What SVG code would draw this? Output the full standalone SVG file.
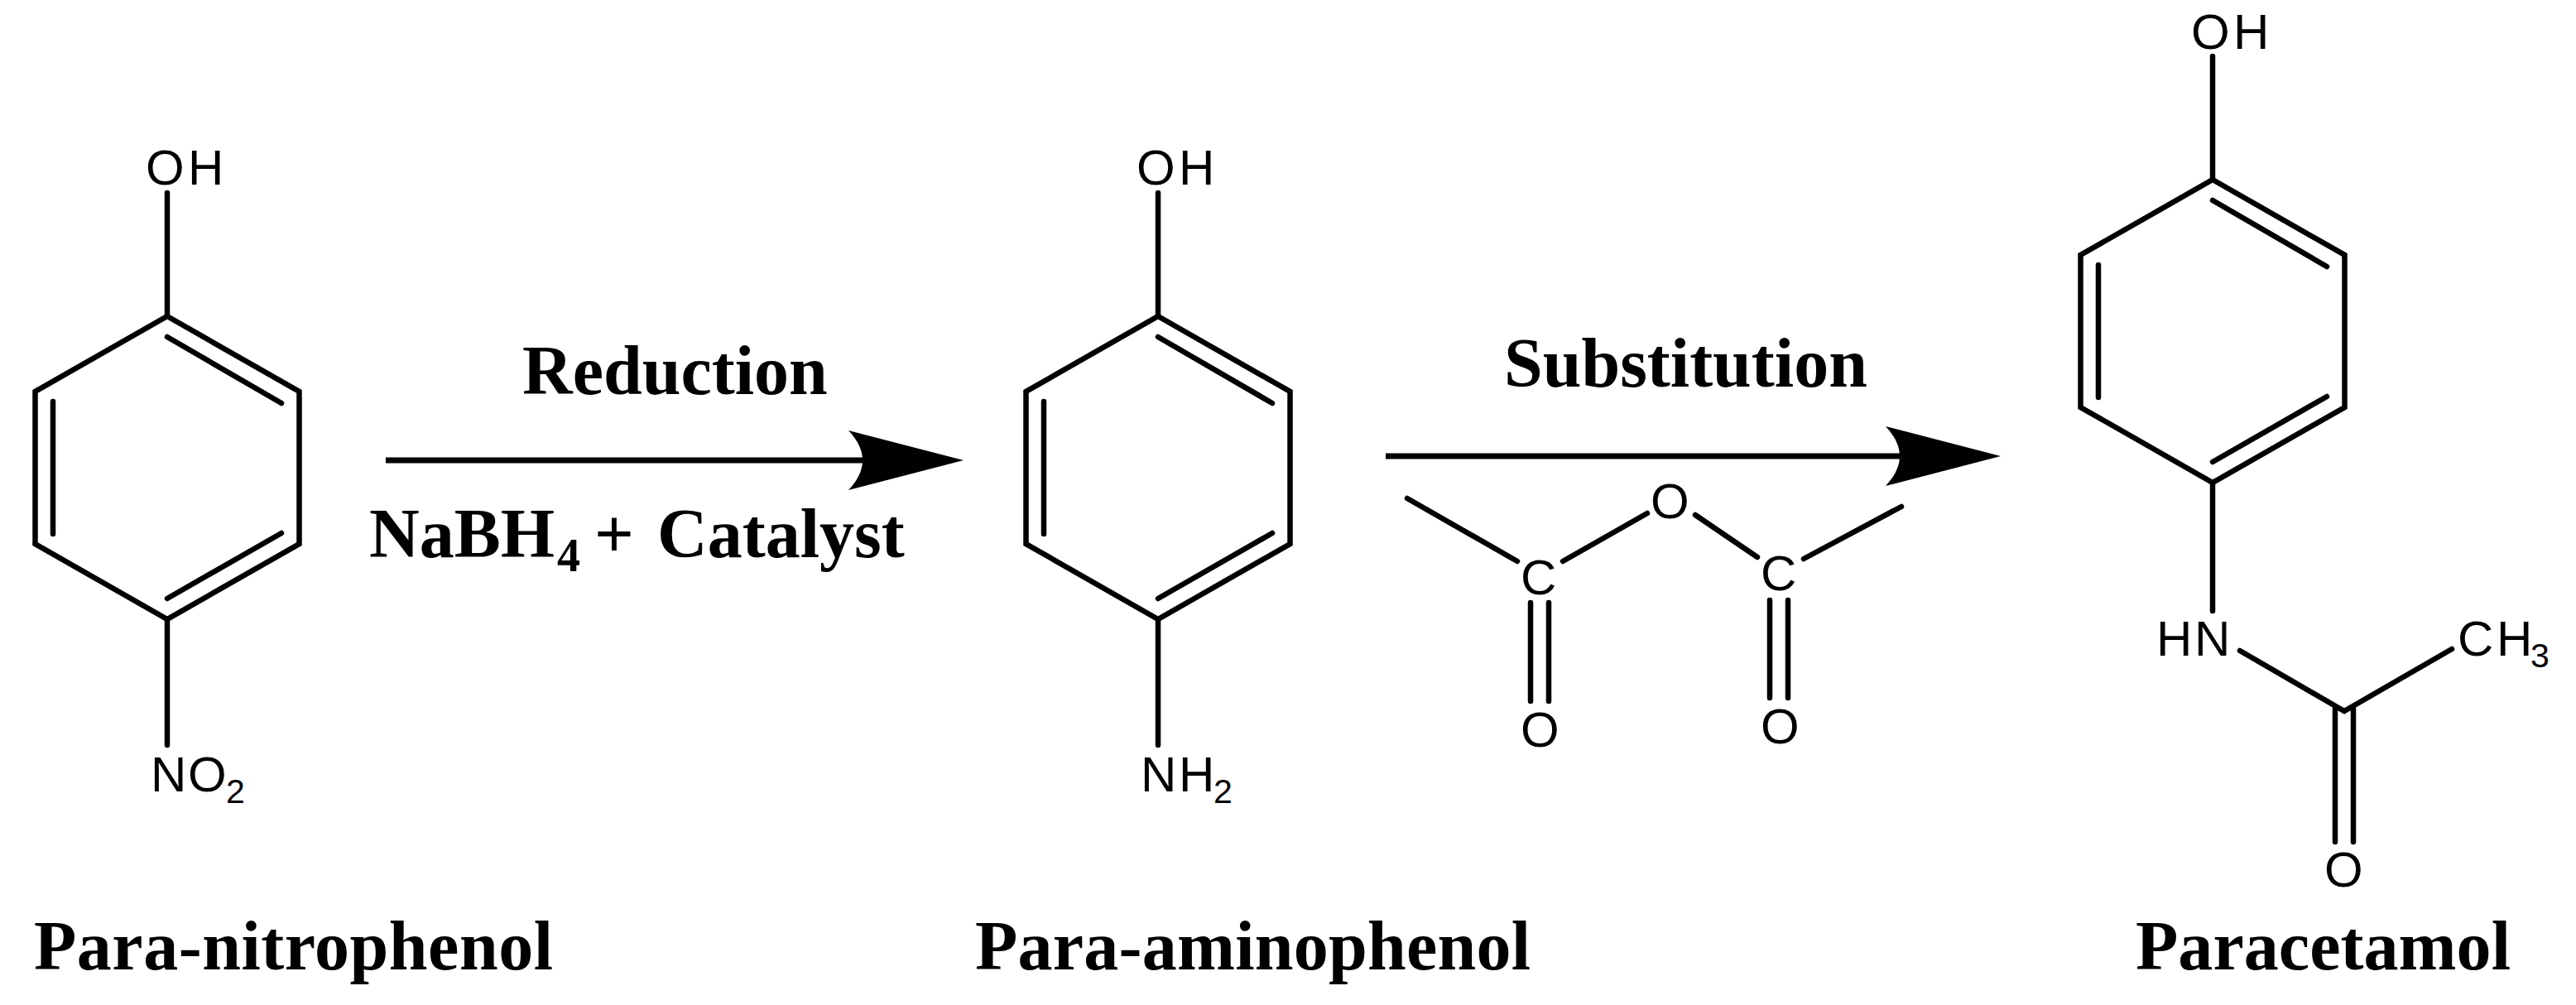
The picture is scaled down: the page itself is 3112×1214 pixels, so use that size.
<svg xmlns="http://www.w3.org/2000/svg" width="3112" height="1214" viewBox="0 0 3112 1214">
<style>
.b{fill:none;stroke:#000;stroke-width:6.5;stroke-linecap:round;stroke-linejoin:miter}
.a{font-family:"Liberation Sans",Arial,sans-serif;font-size:60px;fill:#000}
.s{font-size:41px}
.t{font-family:"Liberation Serif","Times New Roman",serif;font-size:84px;font-weight:bold;fill:#000}
.l{fill:none;stroke:#000;stroke-width:7}
</style>
<defs>
<marker id="head" markerUnits="userSpaceOnUse" markerWidth="140" markerHeight="74" refX="20" refY="36" orient="auto" overflow="visible">
<path d="M0,0L139,36L0,72Q34,36 0,0Z" fill="#000"/>
</marker>
<path id="ring" class="b" d="M0,0L159.500,91V275L0,366L-159.500,275V91ZM0,25L138,105M138,262L0,341M-138,103V263"/>
</defs>
<rect width="3112" height="1214" fill="#fff"/>
<g id="para-nitrophenol">
<use href="#ring" x="202" y="382"/>
<path class="b" d="M202,233V382M202,748V900"/>
<text class="a" y="223" x="176 227">OH</text>
<text class="a" y="956" x="182 227">NO<tspan class="s" x="273" y="970">2</tspan></text>
<text class="t" x="41" y="1171" textLength="627">Para-nitrophenol</text>
</g>
<g id="para-aminophenol">
<use href="#ring" x="1399" y="382"/>
<path class="b" d="M1399,233V382M1399,748V900"/>
<text class="a" y="223" x="1373 1424">OH</text>
<text class="a" y="956" x="1378 1424">NH<tspan class="s" x="1466" y="970">2</tspan></text>
<text class="t" x="1178" y="1171" textLength="671">Para-aminophenol</text>
</g>
<g id="paracetamol">
<use href="#ring" x="2673" y="217"/>
<path class="b" d="M2673,68V217M2673,583V738M2706,786L2832,859L2962,784M2821,856V1017M2843,856V1017"/>
<text class="a" y="59" x="2647 2698">OH</text>
<text class="a" y="792" x="2605 2651">HN</text>
<text class="a" y="792" x="2969 3016">CH<tspan class="s" x="3057" y="806">3</tspan></text>
<text class="a" y="1071" x="2808">O</text>
<text class="t" x="2580" y="1171" textLength="453">Paracetamol</text>
</g>
<g id="acetic-anhydride">
<path class="b" d="M1700,602L1833,678M1888,678L1990,620M2048,622L2123,673M2179,675L2297,612M1849,728V847M1871,728V847M2138,725V843M2160,725V843"/>
<text class="a" x="1837" y="718">C</text>
<text class="a" x="2127" y="713">C</text>
<text class="a" x="1994" y="626">O</text>
<text class="a" x="1837" y="902">O</text>
<text class="a" x="2127" y="898">O</text>
</g>
<g id="connectors">
<line class="l" x1="466" y1="556" x2="1045" y2="556" marker-end="url(#head)"/>
<line class="l" x1="1674" y1="551" x2="2298" y2="551" marker-end="url(#head)"/>
</g>
<g id="labels">
<text class="t" x="631" y="476">Reduction</text>
<text class="t" x="446" y="673">NaBH<tspan x="673" y="690" font-size="56">4</tspan><tspan x="718" y="673">+</tspan><tspan x="794" y="673">Catalyst</tspan></text>
<text class="t" x="1817" y="467">Substitution</text>
</g>
</svg>
